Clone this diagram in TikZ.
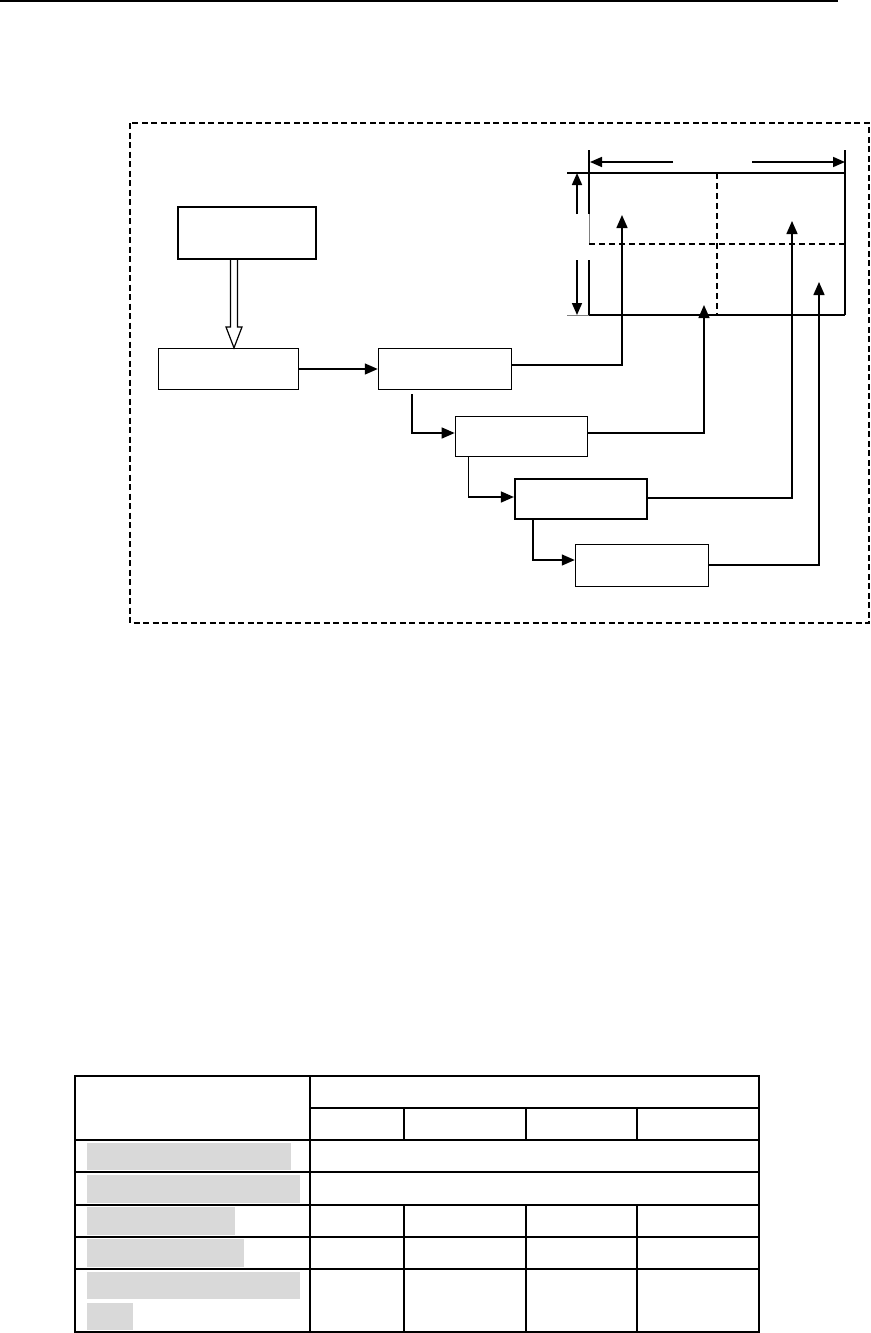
\documentclass[tikz,border=0pt]{standalone}
\usetikzlibrary{arrows.meta}
\definecolor{hl}{HTML}{D9D9D9}
\begin{document}
\begin{tikzpicture}[x=1pt,y=-1pt,
  blk/.style={draw,rectangle,inner sep=0pt,line width=#1},
  blk/.default=1.2pt,
  conn/.style={line width=1.5pt,-{Triangle[length=13pt,width=11pt]}},
  dimarr/.style={line width=1.7pt,-{Triangle[length=12pt,width=10pt]}},
  tline/.style={line width=1.3pt},
  hlbox/.style={fill=hl,draw=none}]
\useasboundingbox (0,0) rectangle (870,1333);
% page header rule
\draw[line width=1.8pt] (0,1) -- (838,1);
% dashed frame
\draw[line width=1.4pt,dash pattern=on 6pt off 3.5pt] (130,123) rectangle (869,623);
% boxes
\node[blk=2.2pt,minimum width=138pt,minimum height=52pt] (A) at (247,233) {};
\node[blk=1.3pt,minimum width=140pt,minimum height=41pt] (B) at (228.5,369) {};
\node[blk=1.5pt,minimum width=133pt,minimum height=41pt] (C) at (445,369) {};
\node[blk=1.7pt,minimum width=132pt,minimum height=40pt] (D) at (521.5,436.5) {};
\node[blk=2.2pt,minimum width=132pt,minimum height=40pt] (E) at (581,499) {};
\node[blk=1.5pt,minimum width=133pt,minimum height=42pt] (F) at (642,565.5) {};
% hollow arrow A -> B
\coordinate (hA) at ([xshift=-13pt]A.south);
\coordinate (hB) at (hA |- B.north);
\draw[line width=1.2pt,fill=white]
  ([xshift=-3.5pt]hA) -- ([xshift=-3.5pt]hA |- 0,327) -- ([xshift=-8pt]hA |- 0,327)
  -- (hB) -- ([xshift=8pt]hA |- 0,327) -- ([xshift=3.5pt]hA |- 0,327)
  -- ([xshift=3.5pt]hA);
% grid of the target area
\coordinate (t1) at (622,215);
\coordinate (t2) at (704,305);
\coordinate (t3) at (792,221);
\coordinate (t4) at (819,282);
\draw[line width=1.2pt] (567,173) -- (845,173);
\draw[line width=2pt] (589,315) -- (845,315);
\draw[line width=1pt,gray] (567,315) -- (589,315);
\draw[line width=2pt] (845,150) -- (845,315);
\draw[line width=1.2pt] (589,150) -- (589,214);
\draw[line width=0.8pt,gray] (589,214) -- (589,244);
\draw[line width=1.2pt] (589,260) -- (589,315);
\draw[line width=1.4pt,dash pattern=on 6pt off 4pt] (717,173) -- (717,315);
\draw[line width=1.4pt,dash pattern=on 6pt off 4pt] (589,244) -- (845,244);
% dimension arrows
\draw[dimarr] (673,162) -- (590,162);
\draw[dimarr] (752,162) -- (845,162);
\draw[dimarr] (577,214) -- (577,173);
\draw[dimarr] (577,260) -- (577,315);
% connectors
\draw[conn] (B.east) -- (C.west);
\draw[conn] ([yshift=4pt]C.east) -| (t1);
\draw[conn] ([xshift=34pt,yshift=-4pt]C.south west) |- ([yshift=3.5pt]D.west);
\draw[conn] ([yshift=3.5pt]D.east) -| (t2);
\draw[conn] ([xshift=14pt]D.south west) |- ([yshift=2pt]E.west);
\draw[conn] ([yshift=1pt]E.east) -| (t3);
\draw[conn] ([xshift=19pt]E.south west) |- ([yshift=5.5pt]F.west);
\draw[conn] ([yshift=0.5pt]F.east) -| (t4);
% table highlight boxes
\fill[hlbox] (87,1143) rectangle (291,1170);
\fill[hlbox] (87,1175) rectangle (300,1203);
\fill[hlbox] (87,1207) rectangle (235,1235);
\fill[hlbox] (87,1239) rectangle (244,1267);
\fill[hlbox] (87,1272) rectangle (300,1299);
\fill[hlbox] (87,1303) rectangle (133,1330);
% table
\draw[tline] (75,1076) rectangle (759,1332);
\draw[tline] (310,1076) -- (310,1332);
\draw[tline] (310,1108) -- (759,1108);
\foreach \yy in {1140,1172,1205,1237,1269} \draw[tline] (75,\yy) -- (759,\yy);
\foreach \xx in {404,526,637} {
  \draw[tline] (\xx,1108) -- (\xx,1140);
  \draw[tline] (\xx,1205) -- (\xx,1332);
}
\end{tikzpicture}
\end{document}
